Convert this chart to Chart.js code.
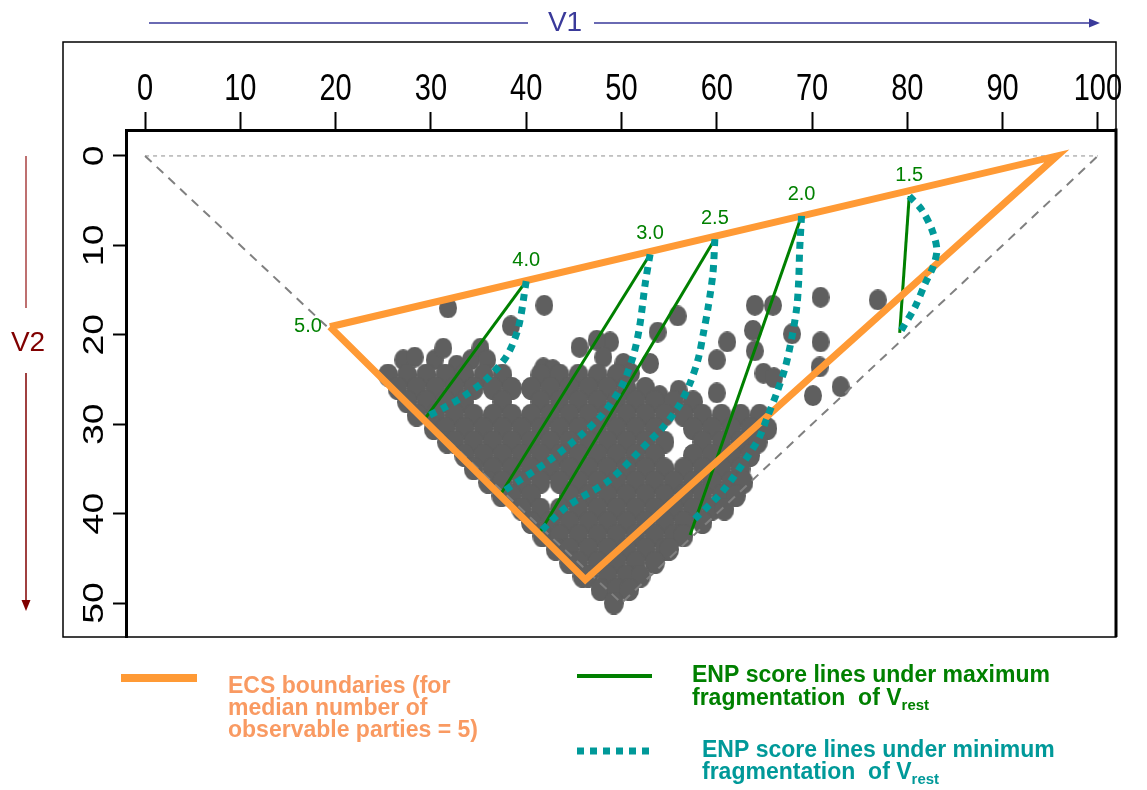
<!DOCTYPE html>
<html>
<head>
<meta charset="utf-8">
<script src="https://cdn.jsdelivr.net/npm/chart.js@4.4.0/dist/chart.umd.min.js"></script>
<style>
  html, body { margin: 0; padding: 0; background: #fff; }
  canvas { display: block; }
</style>
</head>
<body>
<canvas id="chart" width="1147" height="790"></canvas>
<script>
// -------------------- DATA --------------------
const xTicks = [0, 10, 20, 30, 40, 50, 60, 70, 80, 90, 100];
const yTicks = [0, 10, 20, 30, 40, 50];

// theoretical triangle, dashed grey
const outerX = [0, 50, 100];
const outerY = [0, 50, 0];
const topX = [0, 100];
const topY = [0, 0];

// ECS boundaries (orange)
const ecsX = [19.4, 95.7, 46.2, 19.4];
const ecsY = [19.1, 0, 47.4, 19.1];

// ENP score labels and their point on the upper boundary
const enpLabels = ["5.0", "4.0", "3.0", "2.5", "2.0", "1.5"];
const enpTopX = [19.4, 40.0, 53.0, 59.8, 68.9, 80.2];
const enpTopY = [19.1, 14.0, 11.0, 9.3, 6.7, 4.5];

// lower ends of the straight lines (max fragmentation), for 4.0 .. 1.5
const maxEndX = [29.5, 37.4, 41.5, 57.2, 79.2];
const maxEndY = [29.2, 37.7, 42.0, 42.4, 19.8];

// curves under minimum fragmentation
const min40 = [[40.0, 14.0], [39.2, 19.1], [38.0, 22.3], [35.9, 24.9], [33.4, 26.9], [31.3, 28.2], [29.5, 29.2]];
const min30 = [[53.0, 11.0], [52.5, 14.2], [51.9, 19.1], [51.2, 22.5], [50.0, 25.8], [48.1, 28.8], [46.0, 31.0], [42.5, 34.0], [38.3, 37.0], [37.4, 37.7]];
const min25 = [[59.8, 9.3], [59.6, 13.1], [59.1, 16.9], [58.6, 19.8], [58.1, 22.5], [57.2, 25.4], [56.0, 28.0], [54.4, 30.3], [53.0, 31.8], [48.8, 36.2], [44.3, 39.2], [41.5, 42.0]];
const min20 = [[68.9, 6.7], [68.7, 10.5], [68.6, 13.9], [68.4, 16.9], [67.9, 20.2], [67.2, 23.6], [66.3, 26.5], [65.2, 29.5], [64.5, 31.4], [63.5, 33.2], [60.7, 37.4], [57.6, 40.7]];
const min15 = [[80.2, 4.5], [81.5, 6.0], [82.6, 8.3], [83.1, 10.5], [82.7, 12.4], [81.9, 14.2], [80.8, 16.9], [79.2, 19.8]];

// observed cases, scattered ones above the main mass : [V1, V2]
const sparseCloud = [
  [31.8, 17.0], [41.9, 16.7], [38.4, 19.0], [55.9, 17.9], [53.8, 19.7], [64.0, 16.7], [65.9, 16.7],
  [70.9, 15.8], [76.9, 16.1], [63.8, 19.5], [67.9, 19.9], [70.9, 20.8], [61.1, 20.8], [60.0, 22.8],
  [64.0, 21.8], [64.9, 24.3], [66.0, 24.8], [70.8, 23.6], [70.1, 26.8], [73.0, 25.8], [60.0, 26.5],
  [56.0, 26.2], [54.0, 26.8], [53.0, 23.2], [50.2, 23.2], [48.8, 20.8], [47.4, 20.6], [48.1, 22.5],
  [45.6, 21.4], [27.1, 22.8], [28.3, 22.5], [30.4, 22.8], [31.3, 21.5], [32.7, 23.4], [34.2, 22.8],
  [35.2, 21.5], [35.9, 22.8], [41.8, 23.7], [42.8, 23.9], [51.0, 24.3]
];

// observed cases, dense main mass : [V1, V2]
const denseCloud = [
  [25.5, 24.5], [27.5, 24.5], [29.5, 24.5], [31.5, 24.5], [33.5, 24.5], [35.5, 24.5], [37.5, 24.5],
  [41.5, 24.5], [43.5, 24.5], [45.5, 24.5], [47.5, 24.5], [49.5, 24.5],
  [26.5, 26], [28.5, 26], [30.5, 26], [32.5, 26], [34.5, 26], [36.5, 26], [38.5, 26], [40.5, 26],
  [42.5, 26], [44.5, 26], [46.5, 26], [48.5, 26], [50.5, 26], [52.5, 26],
  [27.5, 27.5], [29.5, 27.5], [31.5, 27.5], [33.5, 27.5], [37.5, 27.5], [41.5, 27.5], [43.5, 27.5],
  [45.5, 27.5], [47.5, 27.5], [49.5, 27.5], [51.5, 27.5], [53.5, 27.5], [55.5, 27.5], [57.5, 27.5],
  [28.5, 29], [30.5, 29], [32.5, 29], [34.5, 29], [36.5, 29], [38.5, 29], [40.5, 29], [42.5, 29],
  [44.5, 29], [46.5, 29], [48.5, 29], [50.5, 29], [52.5, 29], [54.5, 29], [56.5, 29], [58.5, 29],
  [60.5, 29], [62.5, 29], [64.5, 29],
  [30.3, 30.5], [31.5, 30.5], [33.5, 30.5], [35.5, 30.5], [37.5, 30.5], [39.5, 30.5], [41.5, 30.5],
  [43.5, 30.5], [45.5, 30.5], [47.5, 30.5], [49.5, 30.5], [51.5, 30.5], [53.5, 30.5], [57.5, 30.5],
  [59.5, 30.5], [61.5, 30.5], [63.5, 30.5], [65.3, 30.5],
  [31.7, 32], [32.5, 32], [34.5, 32], [36.5, 32], [38.5, 32], [40.5, 32], [42.5, 32], [44.5, 32],
  [46.5, 32], [48.5, 32], [50.5, 32], [52.5, 32], [54.5, 32], [58.5, 32], [60.5, 32], [62.5, 32],
  [64.3, 32],
  [33.5, 33.5], [35.5, 33.5], [37.5, 33.5], [39.5, 33.5], [41.5, 33.5], [43.5, 33.5], [45.5, 33.5],
  [47.5, 33.5], [49.5, 33.5], [51.5, 33.5], [53.5, 33.5], [57.5, 33.5], [59.5, 33.5], [61.5, 33.5],
  [63.5, 33.5],
  [34.5, 35], [36.5, 35], [38.5, 35], [40.5, 35], [42.5, 35], [44.5, 35], [46.5, 35], [48.5, 35],
  [50.5, 35], [52.5, 35], [54.5, 35], [56.5, 35], [58.5, 35], [60.5, 35], [62.5, 35],
  [36, 36.5], [37.5, 36.5], [39.5, 36.5], [41.5, 36.5], [43.5, 36.5], [45.5, 36.5], [47.5, 36.5],
  [49.5, 36.5], [51.5, 36.5], [53.5, 36.5], [55.5, 36.5], [57.5, 36.5], [59.5, 36.5], [61.5, 36.5],
  [62.8, 36.5],
  [37.4, 38], [38.5, 38], [40.5, 38], [44.5, 38], [46.5, 38], [48.5, 38], [50.5, 38], [52.5, 38],
  [54.5, 38], [56.5, 38], [58.5, 38], [60.5, 38], [62, 38],
  [39.5, 39.5], [41.5, 39.5], [43.5, 39.5], [45.5, 39.5], [47.5, 39.5], [49.5, 39.5], [51.5, 39.5],
  [53.5, 39.5], [55.5, 39.5], [57.5, 39.5], [59.5, 39.5], [60.8, 39.5],
  [40.5, 41], [42.5, 41], [44.5, 41], [46.5, 41], [48.5, 41], [50.5, 41], [52.5, 41], [54.5, 41],
  [56.5, 41], [58.5, 41],
  [41.7, 42.5], [43.5, 42.5], [45.5, 42.5], [47.5, 42.5], [49.5, 42.5], [51.5, 42.5], [53.5, 42.5],
  [55.5, 42.5], [56.5, 42.5],
  [43.1, 44], [44.5, 44], [46.5, 44], [48.5, 44], [50.5, 44], [52.5, 44], [54.5, 44], [55, 44],
  [44.5, 45.5], [45.5, 45.5], [47.5, 45.5], [49.5, 45.5], [51.5, 45.5], [53.5, 45.5],
  [45.9, 47], [46.5, 47], [48.5, 47], [50.5, 47], [52, 47],
  [47.8, 48.5], [49.5, 48.5], [50.8, 48.5],
  [49.2, 50]
];

// -------------------- HELPERS --------------------
const FONT = '"Liberation Sans", Arial, sans-serif';
const pts = (xs, ys) => xs.map((v, i) => ({ x: v, y: ys[i] }));
const pairs = arr => arr.map(p => ({ x: p[0], y: p[1] }));

function lineSet(data, style) {
  return Object.assign({
    type: "line", data: data, pointRadius: 0, fill: false, tension: 0, borderCapStyle: "butt"
  }, style);
}

// the dots in the figure are slightly taller than wide (stretched plot)
function blob(w, h) {
  const c = document.createElement("canvas");
  c.width = w; c.height = h;
  const g = c.getContext("2d");
  g.fillStyle = "#5f5f5f";
  g.beginPath();
  g.ellipse(w / 2, h / 2, w / 2, h / 2, 0, 0, Math.PI * 2);
  g.fill();
  return c;
}

function arrowHead(ctx, x, y, dir) {
  ctx.beginPath();
  if (dir === "right") {
    ctx.moveTo(x, y); ctx.lineTo(x - 11, y - 4.5); ctx.lineTo(x - 11, y + 4.5);
  } else {
    ctx.moveTo(x, y); ctx.lineTo(x - 4.5, y - 11); ctx.lineTo(x + 4.5, y - 11);
  }
  ctx.closePath();
  ctx.fill();
}

function textWithSub(ctx, main, sub, x, y, size) {
  ctx.font = "bold " + size + "px " + FONT;
  ctx.fillText(main, x, y);
  const w = ctx.measureText(main).width;
  ctx.font = "bold " + Math.round(size * 0.66) + "px " + FONT;
  ctx.fillText(sub, x + w, y + 7);
}

// -------------------- DATASETS --------------------
const datasets = [];

datasets.push({
  type: "scatter", data: pairs(denseCloud), order: 10,
  pointStyle: blob(20, 23), pointRadius: 10, pointHoverRadius: 10
});
datasets.push({
  type: "scatter", data: pairs(sparseCloud), order: 10,
  pointStyle: blob(18, 21), pointRadius: 9, pointHoverRadius: 9
});
datasets.push(lineSet(pts(outerX, outerY), {
  order: 8, borderColor: "#808080", borderWidth: 2, borderDash: [9, 7]
}));
datasets.push(lineSet(pts(topX, topY), {
  order: 8, borderColor: "#a8a8a8", borderWidth: 1.3, borderDash: [4, 4]
}));

for (let i = 0; i < maxEndX.length; i++) {
  datasets.push(lineSet(pts([enpTopX[i + 1], maxEndX[i]], [enpTopY[i + 1], maxEndY[i]]), {
    order: 4, borderColor: "#008000", borderWidth: 3
  }));
}

datasets.push(lineSet(pts(ecsX, ecsY), {
  order: 3, borderColor: "#ff9a35", borderWidth: 7, borderJoinStyle: "miter"
}));

[min40, min30, min25, min20, min15].forEach(c => {
  datasets.push(lineSet(pairs(c), {
    order: 2, borderColor: "#009999", borderWidth: 7, borderDash: [7, 6], tension: 0.3
  }));
});

// -------------------- DECORATION PLUGIN --------------------
const decor = {
  id: "decor",
  beforeDraw(chart) {
    const ctx = chart.ctx;
    ctx.save();
    ctx.fillStyle = "#fff";
    ctx.fillRect(0, 0, chart.width, chart.height);
    ctx.restore();
  },
  afterDraw(chart) {
    const ctx = chart.ctx;
    const a = chart.chartArea;
    const sx = chart.scales.x, sy = chart.scales.y;
    ctx.save();

    // outer frame + thick right side
    ctx.strokeStyle = "#000";
    ctx.lineWidth = 1.5;
    ctx.strokeRect(63, 42, a.right - 63, a.bottom - 42);
    ctx.lineWidth = 3;
    ctx.beginPath();
    ctx.moveTo(a.right, a.top - 1.5); ctx.lineTo(a.right, a.bottom);
    ctx.stroke();

    // tick labels (the original is a stretched R plot)
    ctx.fillStyle = "#000";
    ctx.font = "29px " + FONT;
    ctx.textAlign = "center";
    ctx.textBaseline = "alphabetic";
    xTicks.forEach(v => {
      ctx.save();
      ctx.translate(sx.getPixelForValue(v), 100);
      ctx.scale(1, 1.29);
      ctx.fillText(String(v), 0, 0);
      ctx.restore();
    });
    yTicks.forEach(v => {
      ctx.save();
      ctx.translate(103, sy.getPixelForValue(v));
      ctx.rotate(-Math.PI / 2);
      ctx.scale(1.29, 1);
      ctx.fillText(String(v), 0, 0);
      ctx.restore();
    });

    // V1 arrow
    ctx.strokeStyle = "#3a3a9a";
    ctx.fillStyle = "#3a3a9a";
    ctx.lineWidth = 1.5;
    ctx.beginPath();
    ctx.moveTo(149, 23); ctx.lineTo(528, 23);
    ctx.moveTo(594, 23); ctx.lineTo(1092, 23);
    ctx.stroke();
    arrowHead(ctx, 1100, 23, "right");
    ctx.font = "28px " + FONT;
    ctx.textBaseline = "middle";
    ctx.fillText("V1", 565, 23);

    // V2 arrow
    ctx.strokeStyle = "#a84040";
    ctx.beginPath();
    ctx.moveTo(26, 156); ctx.lineTo(26, 308);
    ctx.stroke();
    ctx.strokeStyle = "#800000";
    ctx.fillStyle = "#800000";
    ctx.beginPath();
    ctx.moveTo(26, 373); ctx.lineTo(26, 602);
    ctx.stroke();
    arrowHead(ctx, 26, 611, "down");
    ctx.fillText("V2", 28, 343);

    // ENP labels
    ctx.fillStyle = "#008000";
    ctx.font = "20px " + FONT;
    enpLabels.forEach((t, i) => {
      const px = sx.getPixelForValue(enpTopX[i]);
      const py = sy.getPixelForValue(enpTopY[i]);
      if (i === 0) {
        ctx.textAlign = "right";
        ctx.fillText(t, px - 8, py);
      } else {
        ctx.textAlign = "center";
        ctx.fillText(t, px, py - 21);
      }
    });

    // legend
    ctx.textAlign = "left";
    ctx.textBaseline = "middle";
    ctx.lineCap = "butt";
    ctx.strokeStyle = "#ff9a35";
    ctx.lineWidth = 8;
    ctx.beginPath(); ctx.moveTo(121, 678); ctx.lineTo(197, 678); ctx.stroke();
    ctx.fillStyle = "#f99a62";
    ctx.font = "bold 23px " + FONT;
    ctx.fillText("ECS boundaries (for", 228, 687);
    ctx.fillText("median number of", 228, 709);
    ctx.fillText("observable parties = 5)", 228, 731);

    ctx.strokeStyle = "#008000";
    ctx.lineWidth = 4;
    ctx.beginPath(); ctx.moveTo(577, 676); ctx.lineTo(652, 676); ctx.stroke();
    ctx.fillStyle = "#008000";
    ctx.font = "bold 23px " + FONT;
    ctx.fillText("ENP score lines under maximum", 692, 676);
    textWithSub(ctx, "fragmentation  of V", "rest", 692, 699, 23);

    ctx.strokeStyle = "#009999";
    ctx.lineWidth = 7;
    ctx.setLineDash([7, 6]);
    ctx.beginPath(); ctx.moveTo(577, 751); ctx.lineTo(652, 751); ctx.stroke();
    ctx.setLineDash([]);
    ctx.fillStyle = "#009999";
    ctx.font = "bold 23px " + FONT;
    ctx.fillText("ENP score lines under minimum", 702, 751);
    textWithSub(ctx, "fragmentation  of V", "rest", 702, 773, 23);

    ctx.restore();
  }
};

// -------------------- CHART --------------------
const ctx = document.getElementById("chart").getContext("2d");
new Chart(ctx, {
  type: "scatter",
  data: { datasets: datasets },
  options: {
    responsive: false,
    devicePixelRatio: 1,
    animation: false,
    events: [],
    layout: { padding: { left: 0, top: 0, right: 31, bottom: 153 } },
    plugins: { legend: { display: false }, tooltip: { enabled: false } },
    scales: {
      x: {
        type: "linear", position: "top", min: -2, max: 101.9,
        afterBuildTicks: s => { s.ticks = xTicks.map(v => ({ value: v })); },
        afterFit: s => { s.height = 130; },
        ticks: { display: false },
        grid: { drawOnChartArea: false, drawTicks: true, tickLength: 18, tickWidth: 2, tickColor: "#000" },
        border: { display: true, color: "#000", width: 3 }
      },
      y: {
        type: "linear", position: "left", reverse: true, min: -2.9, max: 53.8,
        afterBuildTicks: s => { s.ticks = yTicks.map(v => ({ value: v })); },
        afterFit: s => { s.width = 126; },
        ticks: { display: false },
        grid: { drawOnChartArea: false, drawTicks: true, tickLength: 13, tickWidth: 2, tickColor: "#000" },
        border: { display: true, color: "#000", width: 3 }
      }
    }
  },
  plugins: [decor]
});
</script>
</body>
</html>
